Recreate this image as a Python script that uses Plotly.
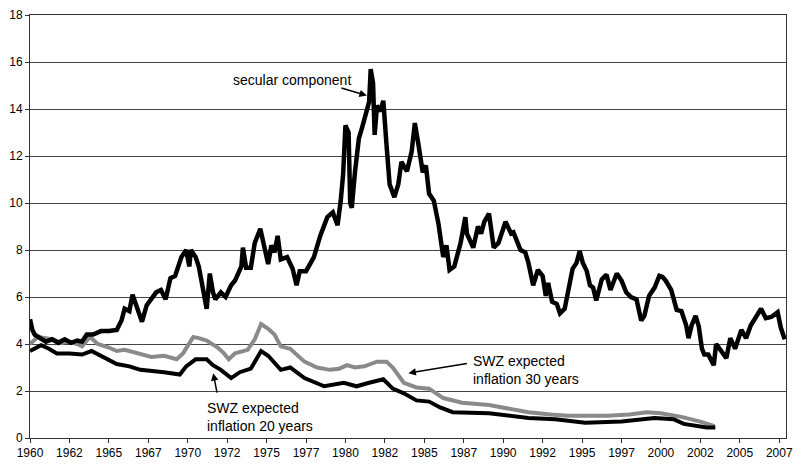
import plotly.graph_objs as go

# -----------------------------------------------------------
# Data (year, percent)
# -----------------------------------------------------------

secular_years = [
    1960.0, 1960.15, 1960.3, 1960.6, 1961.0, 1961.4, 1961.8, 1962.2, 1962.6, 1963.0,
    1963.3, 1963.6, 1964.0, 1964.5, 1965.0, 1965.5, 1965.8, 1966.0, 1966.3, 1966.5,
    1966.8, 1967.1, 1967.4, 1967.7, 1968.0, 1968.3, 1968.6, 1968.9, 1969.2, 1969.4,
    1969.6, 1969.9, 1970.1, 1970.2, 1970.5, 1970.7, 1970.9, 1971.2, 1971.4, 1971.6,
    1971.75, 1972.1, 1972.4, 1972.75, 1973.0, 1973.2, 1973.4, 1973.5, 1973.7, 1974.0,
    1974.25, 1974.6, 1974.8, 1975.1, 1975.3, 1975.5, 1975.7, 1975.9, 1976.3, 1976.65,
    1976.9, 1977.1, 1977.5, 1978.0, 1978.4, 1978.85, 1979.2, 1979.5, 1979.7, 1979.85,
    1980.0, 1980.2, 1980.3, 1980.4, 1980.6, 1980.85, 1981.05, 1981.25, 1981.5, 1981.6,
    1981.75, 1981.85, 1982.0, 1982.2, 1982.4, 1982.6, 1982.8, 1983.1, 1983.35, 1983.55,
    1983.9, 1984.2, 1984.4, 1984.6, 1984.9, 1985.1, 1985.3, 1985.6, 1985.9, 1986.2,
    1986.4, 1986.6, 1986.9, 1987.3, 1987.6, 1987.7, 1988.1, 1988.4, 1988.6, 1988.8,
    1989.1, 1989.4, 1989.7, 1990.15, 1990.5, 1990.65, 1991.1, 1991.4, 1991.6, 1991.9,
    1992.2, 1992.5, 1992.7, 1992.85, 1993.1, 1993.4, 1993.6, 1993.9, 1994.25, 1994.4,
    1994.65, 1994.85, 1995.05, 1995.3, 1995.5, 1995.7, 1995.9, 1996.25, 1996.55, 1996.8,
    1997.2, 1997.5, 1997.8, 1998.1, 1998.45, 1998.75, 1998.95, 1999.25, 1999.6, 1999.9,
    2000.1, 2000.3, 2000.65, 2000.8, 2001.0, 2001.3, 2001.6, 2001.75, 2001.95, 2002.2,
    2002.4, 2002.6, 2002.75, 2003.0, 2003.35, 2003.5, 2003.85, 2004.15, 2004.4, 2004.7,
    2005.1, 2005.4, 2005.7, 2006.05, 2006.35, 2006.65, 2007.0, 2007.4, 2007.6, 2007.85,
]
secular_values = [
    5.05, 4.6, 4.4, 4.25, 4.1, 4.2, 4.05, 4.2, 4.05, 4.15,
    4.1, 4.4, 4.4, 4.55, 4.55, 4.6, 5.0, 5.5, 5.4, 6.1,
    5.5, 4.95, 5.65, 5.9, 6.2, 6.3, 5.9, 6.8, 6.9, 7.3,
    7.7, 8.0, 7.3, 8.0, 7.7, 7.3, 6.6, 5.5, 7.0, 6.2,
    5.9, 6.2, 6.0, 6.5, 6.7, 7.0, 7.3, 8.1, 7.25, 7.25,
    8.3, 8.9, 8.2, 7.4, 8.2, 7.9, 8.6, 7.6, 7.7, 7.2,
    6.5, 7.1, 7.1, 7.7, 8.6, 9.4, 9.6, 9.05, 10.1, 11.2,
    13.3, 13.0, 10.0, 9.8, 11.3, 12.75, 13.2, 13.65, 14.3, 15.7,
    15.1, 12.9, 14.15, 13.9, 14.35, 12.5, 10.8, 10.25, 10.8, 11.75,
    11.35, 12.2, 13.4, 12.6, 11.3, 11.6, 10.4, 10.1, 9.1, 7.7,
    8.2, 7.15, 7.3, 8.3, 9.4, 8.7, 8.1, 9.0, 8.7, 9.2,
    9.55, 8.1, 8.3, 9.2, 8.7, 8.75, 8.0, 7.9, 7.45, 6.5,
    7.15, 6.9, 6.05, 6.6, 5.8, 5.7, 5.3, 5.5, 6.75, 7.2,
    7.45, 7.95, 7.45, 7.1, 6.5, 6.4, 5.85, 6.75, 6.95, 6.3,
    7.0, 6.7, 6.2, 6.0, 5.9, 5.0, 5.2, 6.05, 6.4, 6.9,
    6.85, 6.7, 6.3, 5.9, 5.45, 5.4, 4.8, 4.25, 4.8, 5.2,
    4.75, 3.8, 3.55, 3.55, 3.1, 4.0, 3.7, 3.4, 4.25, 3.8,
    4.6, 4.25, 4.8, 5.15, 5.5, 5.1, 5.15, 5.35, 4.7, 4.2,
]

swz30_years = [
    1960.0, 1960.5, 1961.0, 1961.4, 1962.0, 1962.4, 1963.0, 1963.3, 1963.8, 1964.3,
    1965.0, 1965.5, 1966.0, 1966.6, 1967.2, 1967.7, 1968.5, 1969.3, 1969.7, 1970.0,
    1970.35, 1970.7, 1971.2, 1971.9, 1972.3, 1972.6, 1973.0, 1973.8, 1974.25, 1974.65,
    1975.1, 1975.5, 1975.9, 1976.5, 1977.4, 1978.2, 1979.0, 1979.6, 1980.1, 1980.6,
    1981.2, 1982.0, 1982.6, 1983.0, 1983.3, 1983.7, 1984.5, 1985.3, 1986.2, 1987.4,
    1989.1, 1990.5, 1991.6, 1993.0, 1994.1, 1995.5, 1996.6, 1998.0, 1999.1, 2000.0,
    2001.3, 2002.5, 2003.0, 2003.4,
]
swz30_values = [
    4.0, 4.3, 4.25, 4.2, 4.05, 4.1, 4.0, 3.9, 4.3, 4.0,
    3.85, 3.7, 3.75, 3.65, 3.55, 3.45, 3.5, 3.35, 3.6, 3.9,
    4.3, 4.25, 4.15, 3.85, 3.6, 3.35, 3.6, 3.75, 4.2, 4.85,
    4.65, 4.4, 3.9, 3.8, 3.25, 3.0, 2.9, 2.95, 3.1, 3.0,
    3.05, 3.25, 3.25, 3.0, 2.7, 2.35, 2.15, 2.1, 1.7, 1.5,
    1.4, 1.25, 1.1, 1.0, 0.95, 0.95, 0.95, 1.0, 1.1, 1.05,
    0.9, 0.7, 0.6, 0.5,
]

swz20_years = [
    1960.0, 1960.7, 1961.2, 1961.7, 1962.5, 1963.3, 1963.9, 1964.6, 1965.5, 1966.3,
    1967.0, 1968.5, 1969.5, 1969.9, 1970.5, 1971.2, 1971.6, 1972.1, 1972.75, 1973.3,
    1974.0, 1974.65, 1975.1, 1975.9, 1976.5, 1977.4, 1978.65, 1979.9, 1980.7, 1981.5,
    1982.4, 1983.0, 1983.7, 1984.5, 1985.3, 1986.0, 1986.8, 1989.1, 1991.6, 1993.3,
    1995.2, 1997.5, 1999.6, 2000.8, 2001.45, 2002.9, 2003.45,
]
swz20_values = [
    3.7, 3.95, 3.8, 3.6, 3.6, 3.55, 3.7, 3.45, 3.15, 3.05,
    2.9, 2.8, 2.7, 3.05, 3.35, 3.35, 3.1, 2.9, 2.55, 2.8,
    2.95, 3.7, 3.5, 2.9, 3.0, 2.55, 2.2, 2.35, 2.2, 2.35,
    2.5, 2.1, 1.9, 1.6, 1.55, 1.3, 1.1, 1.05, 0.85, 0.8,
    0.65, 0.7, 0.85, 0.8, 0.6, 0.45, 0.45,
]

tick_years = [1960 + 2.5 * i for i in range(20)]
tick_labels = [str(int(t)) for t in tick_years]

FONT = "Liberation Sans, Arial, sans-serif"

# -----------------------------------------------------------
# Build figure
# -----------------------------------------------------------

fig = go.Figure()

fig.add_trace(go.Scatter(
    x=swz30_years, y=swz30_values, mode="lines", name="SWZ 30y",
    line=dict(color="#8a8a8a", width=4),
))
fig.add_trace(go.Scatter(
    x=swz20_years, y=swz20_values, mode="lines", name="SWZ 20y",
    line=dict(color="black", width=4),
))
fig.add_trace(go.Scatter(
    x=secular_years, y=secular_values, mode="lines", name="secular",
    line=dict(color="black", width=4.5),
))


def add_label(x, y, text, xanchor="center"):
    fig.add_annotation(
        x=x, y=y, xref="x", yref="y", text=text, showarrow=False,
        xanchor=xanchor, align="left",
        font=dict(family=FONT, size=14, color="black"),
    )


def add_arrow(x, y, ax, ay):
    fig.add_annotation(
        x=x, y=y, xref="x", yref="y", text="", showarrow=True,
        ax=ax, ay=ay, arrowhead=2, arrowsize=1, arrowwidth=1.5,
        arrowcolor="black", standoff=0, startstandoff=0,
    )


add_label(1976.58, 15.24, "secular component")
add_arrow(1981.36, 14.57, -27, -8)

add_label(1987.95, 2.91, "SWZ expected<br>inflation 30 years", xanchor="left")
add_arrow(1983.99, 2.76, 60, -10)

add_label(1971.12, 0.90, "SWZ expected<br>inflation 20 years", xanchor="left")
add_arrow(1971.62, 2.76, 4, 21)

fig.update_layout(
    width=801, height=468,
    margin=dict(l=30, r=8, t=8, b=30),
    paper_bgcolor="white", plot_bgcolor="white",
    showlegend=False,
    font=dict(family=FONT, size=11, color="black"),
)
fig.update_xaxes(
    range=[1960, 2007.93], tickvals=tick_years, ticktext=tick_labels,
    showgrid=False, zeroline=False,
    showline=True, linecolor="#333", linewidth=1, mirror=True,
    ticks="outside", ticklen=4, tickcolor="#333",
    tickfont=dict(size=12),
)
fig.update_yaxes(
    range=[0, 18], dtick=2, showgrid=True, gridcolor="#444", gridwidth=1,
    zeroline=False, showline=True, linecolor="#333", linewidth=1, mirror=True,
    ticks="outside", ticklen=4, tickcolor="#333",
    tickfont=dict(size=12),
)

fig.write_html(
    "out.html",
    config={"displayModeBar": False},
    post_script="document.body.style.margin='0';",
)
